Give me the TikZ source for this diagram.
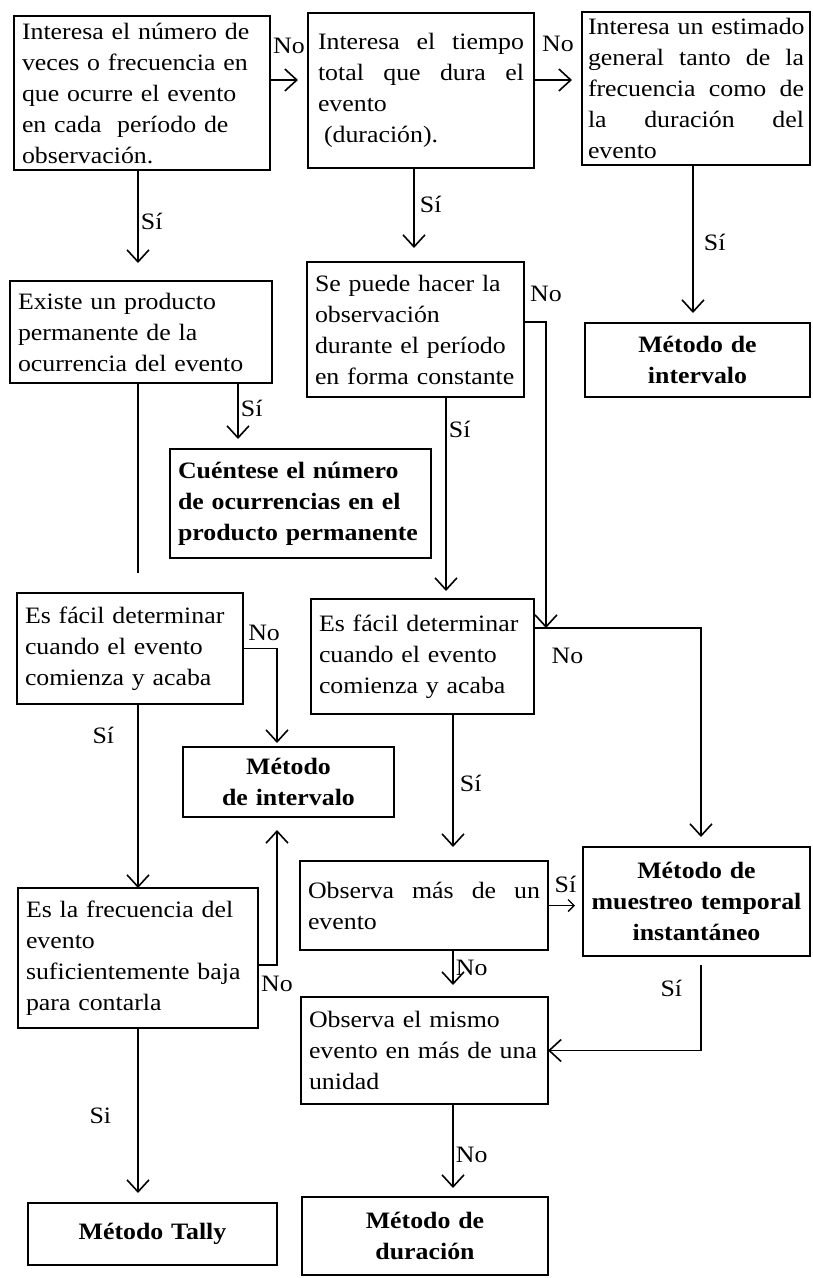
\documentclass[tikz,border=0pt]{standalone}
\usepackage{fontspec}
\setmainfont{Liberation Serif}[FakeStretch=1.1]
\usetikzlibrary{arrows.meta,calc}
\newcommand\boxfont{\fontsize{23.5}{31}\selectfont}
\newcommand\fullline[1]{\noindent\hbox to \hsize{#1}}

\begin{document}
\begin{tikzpicture}[x=1pt, y=-1pt,
  box/.style={draw, line width=2.4pt, anchor=north west, outer sep=0pt, inner xsep=8pt, inner ysep=3pt, align=left, font=\boxfont},
  method/.style={box, font=\boxfont\bfseries, align=center},
  sz/.style 2 args={minimum width=#1pt, minimum height=#2pt, text width=#1pt-16pt},
  conn/.style={line width=1.8pt},
  arr/.style={conn, -{Straight Barb[length=12pt, width=22pt, line width=1.6pt]}, shorten >=10pt},
  lbl/.style={font=\boxfont, inner sep=2pt}]
  \path[use as bounding box, fill=white] (0,0) rectangle (812,1278);
  % columns and rows of the connectors
  \coordinate (colA) at (138,0);
  \coordinate (colG) at (238,0);
  \coordinate (colE) at (414,0);
  \coordinate (colI) at (446,0);
  \coordinate (colN) at (453,0);
  \coordinate (colJ) at (277,0);
  \coordinate (colF) at (693,0);
  \coordinate (colM) at (701,0);
  \coordinate (rowTop) at (0,80);
  \coordinate (rowE) at (0,322);
  \coordinate (rowI) at (0,628);
  \coordinate (rowK) at (0,965);
  \coordinate (joinNo) at (546,628);
  \coordinate (dend) at (138,573);
  % questions
  \node[box, sz={256}{154}] (qfreq) at (14,16) {Interesa el número de\\veces o frecuencia en\\que ocurre el evento\\en cada\ \ período de\\observación.};
  \node[box, sz={226}{155}, inner xsep=10pt, text width=206pt] (qdur) at (308,13) {\fullline{Interesa\hfill el\hfill tiempo}\\\fullline{total\hfill que\hfill dura\hfill el}\\evento\\\hspace*{6pt}(duración).};
  \node[box, sz={228}{153}, inner xsep=6pt, text width=216pt] (qgen) at (582,12) {\fullline{Interesa un estimado\hfil}\\\fullline{general\hfill tanto\hfill de\hfill la}\\\fullline{frecuencia\hfill como\hfill de}\\\fullline{la\hfill duración\hfill del}\\evento};
  \node[box, sz={262}{102}] (qprod) at (10,281) {Existe un producto\\permanente de la\\ocurrencia del evento};
  \node[box, sz={217}{135}] (qconst) at (307,262) {Se puede hacer la\\observación\\durante el período\\en forma constante};
  \node[box, sz={226}{111}] (qeasyL) at (17,593) {Es fácil determinar\\cuando el evento\\comienza y acaba};
  \node[box, sz={223}{115}] (qeasyR) at (311,599) {Es fácil determinar\\cuando el evento\\comienza y acaba};
  \node[box, sz={240}{140}] (qlow) at (18,888) {Es la frecuencia del\\evento\\suficientemente baja\\para contarla};
  \node[box, sz={248}{89}] (qmore) at (300,861) {\fullline{Observa\hfill más\hfill de\hfill un}\\evento};
  \node[box, sz={247}{107}] (qsame) at (301,997) {Observa el mismo\\evento en más de una\\unidad};
  % methods
  \node[method, sz={225}{74}] (intA) at (585,323) {Método de\\intervalo};
  \node[method, sz={261}{109}, align=left] (count) at (170,449) {Cuéntese el número\\de ocurrencias en el\\producto permanente};
  \node[method, sz={211}{70}] (intB) at (183,747) {Método\\de intervalo};
  \node[method, sz={227}{109}] (sampling) at (583,847) {Método de\\muestreo temporal\\instantáneo};
  \node[method, sz={249}{62}] (tally) at (28,1203) {Método Tally};
  \node[method, sz={246}{78}] (durm) at (302,1197) {Método de\\duración};
  % flow
  \draw[arr] (qfreq.east |- rowTop) -- node[lbl, above=23pt] {No} (qdur.west |- rowTop);
  \draw[arr] (qdur.east |- rowTop) -- node[lbl, above=25pt] {No} (qgen.west |- rowTop);
  \draw[arr, shorten >=18pt] (qfreq.south -| colA) -- node[lbl, pos=0.46, right] {Sí} (qprod.north -| colA);
  \draw[arr, shorten >=14pt] (qdur.south -| colE) -- node[lbl, pos=0.39, right=3pt] {Sí} (qconst.north -| colE);
  \draw[arr] (qgen.south -| colF) -- node[lbl, pos=0.49, right=8pt] {Sí} (intA.north -| colF);
  \draw[arr] (qprod.south -| colG) -- node[lbl, pos=0.38, right] {Sí} (count.north -| colG);
  \draw[conn] (qprod.south -| colA) -- (dend);
  \draw[arr, shorten >=8pt] (qconst.south -| colI) -- node[lbl, pos=0.16, right] {Sí} (qeasyR.north -| colI);
  \draw[arr, shorten >=0pt] (qconst.east |- rowE) -| node[lbl, pos=0.5, above=17pt] {No} (joinNo);
  \draw[arr] (qeasyR.east |- rowI) -| node[lbl, pos=0.1, below=17pt] {No} (sampling.north -| colM);
  \draw[arr, shorten >=4pt] (qeasyL.east) -| node[lbl, pos=0.31, above=5pt] {No} (intB.north -| colJ);
  \draw[arr, shorten >=0pt] (qeasyL.south -| colA) -- node[lbl, pos=0.17, left=21pt] {Sí} (qlow.north -| colA);
  \draw[arr, shorten >=13pt] (qlow.east |- rowK) -| node[lbl, pos=0.5, below=8pt] {No} (intB.south -| colJ);
  \draw[arr] (qlow.south -| colA) -- node[lbl, pos=0.5, left=24pt] {Si} (tally.north -| colA);
  \draw[arr, shorten >=14pt] (qeasyR.south -| colN) -- node[lbl, pos=0.47, right=4pt] {Sí} (qmore.north -| colN);
  \draw[conn, -{Straight Barb[length=6pt, width=12pt, line width=1.4pt]}, shorten >=8pt] (qmore.east) -- node[lbl, above=10pt] {Sí} (sampling.west |- qmore.east);
  \draw[arr, shorten >=12pt] (qmore.south -| colN) -- node[lbl, pos=0.38, right] {No} (qsame.north -| colN);
  \draw[arr, shorten <=9pt, shorten >=0pt] (sampling.south -| colM) |- node[lbl, pos=0.17, left=16pt] {Sí} (qsame.east);
  \draw[arr, shorten >=9pt] (qsame.south -| colN) -- node[lbl, pos=0.55, right] {No} (durm.north -| colN);
\end{tikzpicture}
\end{document}
